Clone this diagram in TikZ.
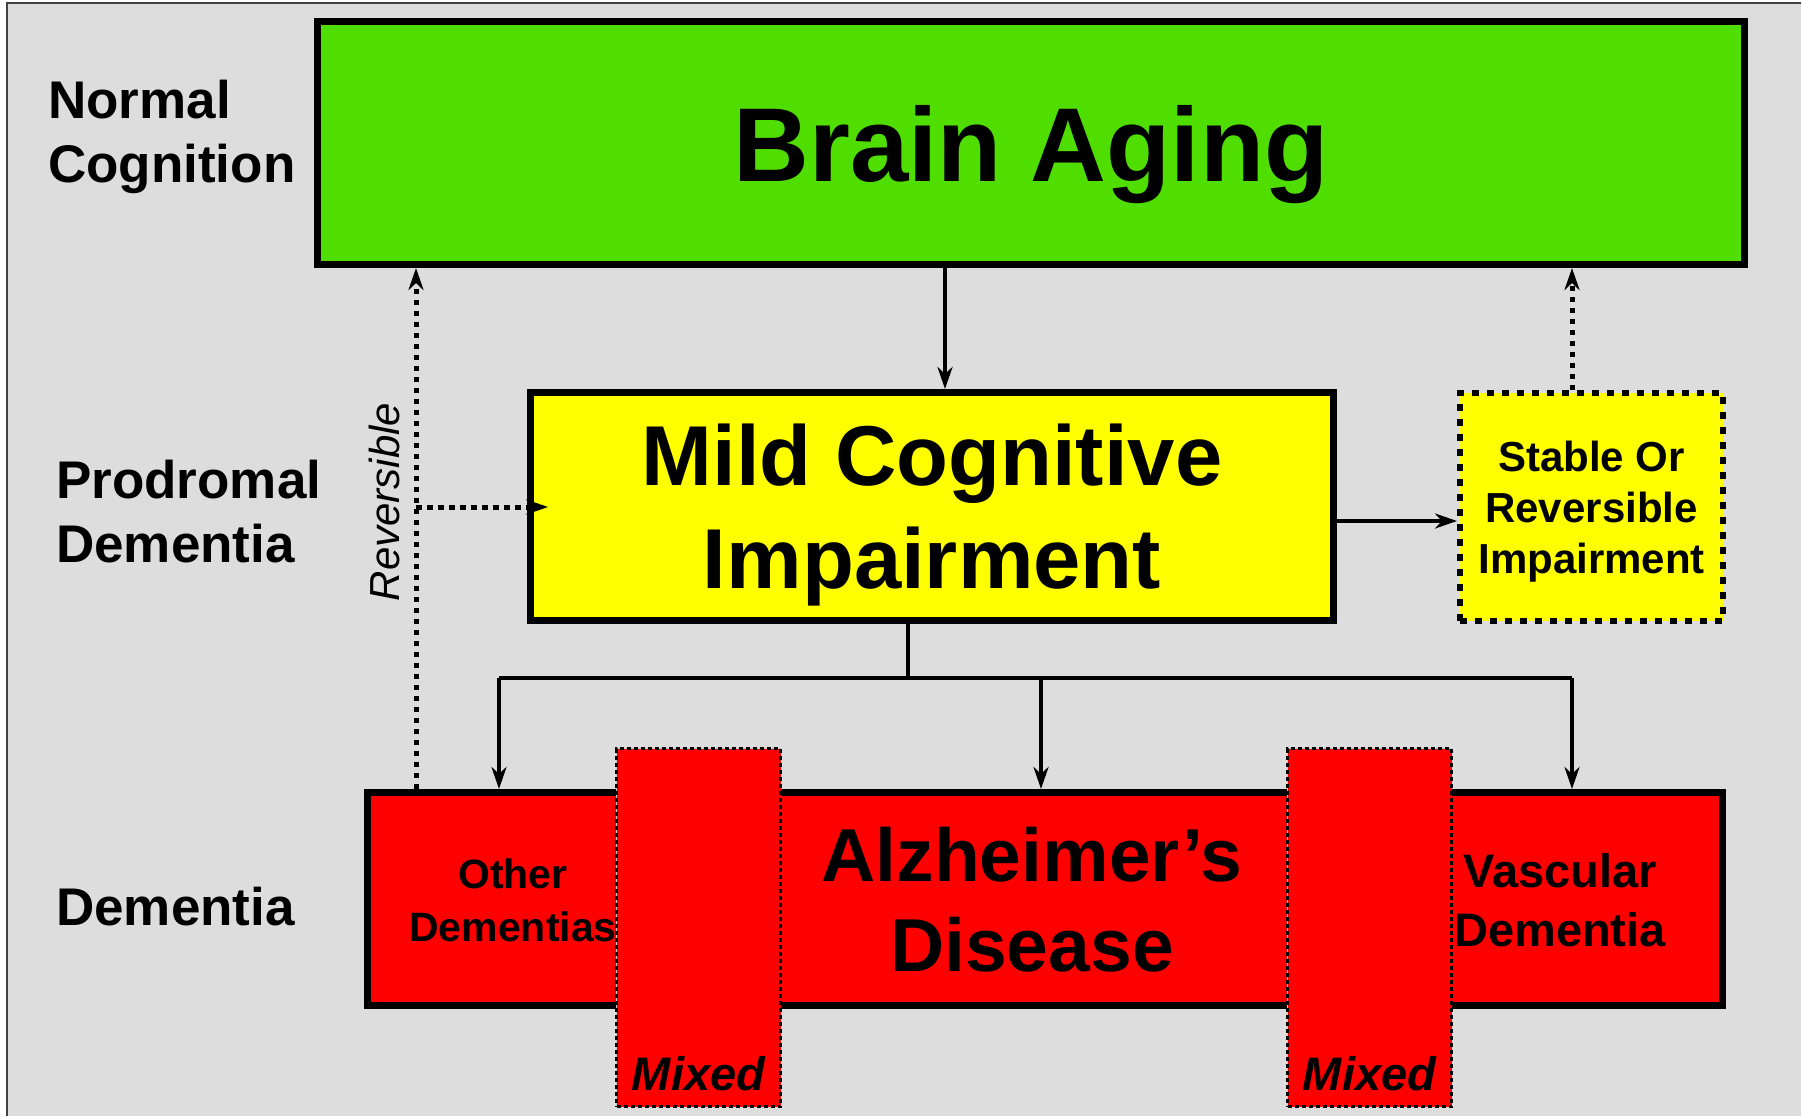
\documentclass[tikz,border=0pt]{standalone}
\usepackage{fontspec}
\setmainfont{Liberation Sans}
\usetikzlibrary{positioning,arrows.meta,calc}
\definecolor{agegreen}{RGB}{80,222,0}
\definecolor{mciyellow}{RGB}{255,255,0}
\definecolor{demred}{RGB}{255,0,0}
\definecolor{panelgray}{RGB}{221,221,221}

\begin{document}
\begin{tikzpicture}[x=1pt,y=-1pt,
  stagebox/.style={draw=black, line width=7pt, inner sep=0pt},
  dotbox/.style={draw=black, fill=mciyellow, line width=6pt, dash pattern=on 7pt off 8pt, inner sep=0pt},
  mixedbox/.style={fill=demred, draw=black, line width=3.5pt, dash pattern=on 4pt off 3pt, preaction={draw=gray!45, line width=1.5pt, solid}, inner sep=0pt},
  stagelabel/.style={font=\bfseries\fontsize{53}{64}\selectfont, align=left, anchor=west, text depth=0pt, inner sep=0pt},
  kindtext/.style={align=center, text depth=0pt, inner sep=0pt},
  link/.style={draw=black, line width=4.5pt},
  arr/.style={link, -{Stealth[length=22pt,width=15pt,inset=7pt]}},
  dotarr/.style={arr, line width=5pt, dash pattern=on 5.5pt off 5.5pt}]
\useasboundingbox (0,0) rectangle (1801,1116);
\fill[white] (0,0) rectangle (1801,1116);
\fill[panelgray] (7,3) rectangle (1801,1116);
\draw[line width=1.5pt, black!75] (7,1116) -- (7,3) -- (1801,3);

\node[stagelabel] (normal) at (48,131) {Normal\\Cognition};
\node[stagelabel] (prodromal) at (56,511) {Prodromal\\Dementia};
\node[stagelabel] (dementia) at (56,906) {Dementia};

\node[stagebox, fill=agegreen, minimum width=1427pt, minimum height=243pt, text depth=0pt, font=\bfseries\fontsize{105}{126}\selectfont] (aging) at (1031,143) {Brain Aging};
\node[stagebox, fill=mciyellow, minimum width=803pt, minimum height=228pt, align=center, text depth=0pt, font=\bfseries\fontsize{85}{103}\selectfont] (mci) at (932,506.5) {Mild Cognitive\\Impairment};
\node[dotbox, minimum width=263pt, minimum height=228pt, align=center, text depth=0pt, font=\bfseries\fontsize{42}{51}\selectfont] (stable) at (1591.5,507) {Stable Or\\Reversible\\Impairment};
\node[stagebox, fill=demred, minimum width=1355pt, minimum height=213pt] (dem) at (1045,899) {};

\node[kindtext, font=\bfseries\fontsize{41}{53}\selectfont] (other) at (513,900) {Other\\Dementias};
\node[kindtext, font=\bfseries\fontsize{75}{90}\selectfont] (alz) at (1032,899.5) {Alzheimer’s\\Disease};
\node[kindtext, font=\bfseries\fontsize{47}{59}\selectfont] (vasc) at (1560,899.5) {Vascular\\Dementia};

\node[mixedbox, minimum width=164pt, minimum height=358pt] (mixL) at (698.5,927.5) {};
\node[mixedbox, minimum width=164pt, minimum height=358pt] (mixR) at (1369.5,927.5) {};
\node[font=\bfseries\itshape\fontsize{47}{56}\selectfont, anchor=base, inner sep=0pt] (mixLtxt) at ([yshift=18pt]mixL.south) {Mixed};
\node[font=\bfseries\itshape\fontsize{47}{56}\selectfont, anchor=base, inner sep=0pt] (mixRtxt) at ([yshift=18pt]mixR.south) {Mixed};

\node[font=\itshape\fontsize{42}{50}\selectfont, rotate=90, inner sep=0pt, text depth=0pt] (revtxt) at (384,502) {Reversible};

\coordinate (downline) at (945,0);
\coordinate (side) at (1400,521);
\coordinate (revline) at (416,507);
\coordinate (split) at (908,678);
\coordinate (branchL) at (499,678);
\coordinate (branchM) at (1041,678);
\coordinate (branchR) at (1572,678);

\draw[arr] (aging.south -| downline) -- (mci.north -| downline);
\draw[arr] (mci.east |- side) -- (stable.west |- side);
\draw[dotarr] (stable.north -| branchR) -- (aging.south -| branchR);

\draw[link] (mci.south -| split) -- (split);
\draw[link] (branchL) -- (branchR);
\draw[arr] (branchL) -- (dem.north -| branchL);
\draw[arr] (branchM) -- (dem.north -| branchM);
\draw[arr] (branchR) -- (dem.north -| branchR);

\draw[dotarr] (dem.north -| revline) -- (aging.south -| revline);
\draw[dotarr] (revline) -- ($(mci.west |- revline)+(21,0)$);
\end{tikzpicture}
\end{document}
